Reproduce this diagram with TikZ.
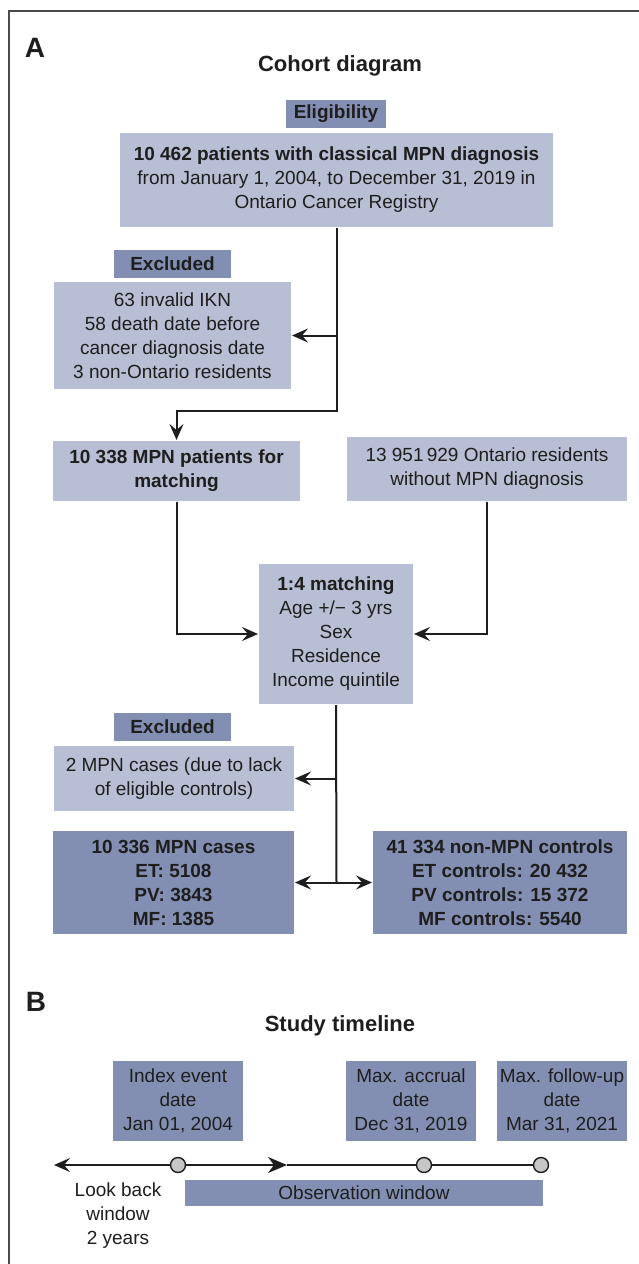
\documentclass[tikz,border=0pt]{standalone}
\usepackage{fontspec}
\setmainfont{Liberation Sans}
\usepackage{tikz}
\usetikzlibrary{arrows.meta}

\definecolor{boxlight}{RGB}{184,191,212}
\definecolor{boxdark}{RGB}{131,143,178}
\definecolor{ink}{RGB}{30,30,30}

\begin{document}
\begin{tikzpicture}[x=1pt, y=-1pt, >={Stealth[length=16pt,width=14pt,inset=6pt]}, color=ink,
			line width=2pt,
			box/.style={fill=boxlight, text=ink, inner sep=0pt, align=center,
				font=\fontsize{19}{24}\selectfont},
			darkbox/.style={box, fill=boxdark},
			tag/.style={darkbox, font=\fontsize{19}{24}\selectfont\bfseries, minimum height=28pt},
			dot/.style={circle, draw=ink, fill=gray!45, line width=1.4pt, minimum size=15pt, inner sep=0pt},
			titulo/.style={font=\fontsize{22}{26}\selectfont\bfseries},
			painel/.style={font=\fontsize{28}{30}\selectfont\bfseries} ]
			\useasboundingbox (0,0) rectangle (639,1264);
			\draw[line width=1.6pt, ink!80] (639,11) -| (9,1264);
			
			%Parte A:
			\node[painel] (A)  at (35,48)   {A};
			\node[titulo] (tA) at (340,66)  {Cohort diagram};
			\node[tag, minimum width=100pt] (elig) at (336,114) {Eligibility};
			\node[box, minimum width=433pt, minimum height=94pt] (pool) at (336.5,180)
				{\textbf{10 462 patients with classical MPN diagnosis}\\from January 1, 2004, to December 31, 2019 in\\Ontario Cancer Registry};
			\node[tag, minimum width=117pt] (exc1t) at (172.5,264) {Excluded};
			\node[box, minimum width=237pt, minimum height=107pt] (exc1) at (172.5,335.5)
				{63 invalid IKN\\58 death date before\\cancer diagnosis date\\3 non-Ontario residents};
			\node[box, minimum width=247pt, minimum height=60pt] (mpn) at (176.5,471)
				{\textbf{10 338 MPN patients for}\\\textbf{matching}};
			\node[box, minimum width=280pt, minimum height=64pt] (ctrl) at (487,469)
				{13 951\,929 Ontario residents\\without MPN diagnosis};
			\node[box, minimum width=154pt, minimum height=140pt] (match) at (336,634)
				{\textbf{1:4 matching}\\Age +/− 3 yrs\\Sex\\Residence\\Income quintile};
			\node[tag, minimum width=117pt] (exc2t) at (172.5,727) {Excluded};
			\node[box, minimum width=240pt, minimum height=65pt] (exc2) at (174,778.5)
				{2 MPN cases (due to lack\\of eligible controls)};
			\node[darkbox, font=\fontsize{19}{24}\selectfont\bfseries, minimum width=241pt, minimum height=103pt] (cases) at (173.5,882.5)
				{10 336 MPN cases\\ET: 5108\\PV: 3843\\MF: 1385};
			\node[darkbox, font=\fontsize{19}{24}\selectfont\bfseries, minimum width=254pt, minimum height=103pt] (ctrls) at (500,882.5)
				{41 334 non-MPN controls\\ET controls: 20 432\\PV controls: 15 372\\MF controls: 5540};
			
			%Ligações:
			\coordinate (k1) at (336.5,411);
			\coordinate (k2) at (336.5,882.5);
			\draw[->] (pool.south) -- (k1) -| (mpn.north);
			\draw[->] (pool.south |- exc1.east) -- (exc1.east);
			\draw[->] (mpn.south) |- (match.west);
			\draw[->] (ctrl.south) |- (match.east);
			\draw (match.south) -- (k2);
			\draw[->] (match.south |- exc2.east) -- (exc2.east);
			\draw[->] (k2) -- (cases.east);
			\draw[->] (k2) -- (ctrls.west);
			
			%Parte B:
			\node[painel] (B)  at (36,1002)  {B};
			\node[titulo] (tB) at (340,1026) {Study timeline};
			\node[darkbox, minimum width=130pt, minimum height=80pt] (idx) at (178,1101)
				{Index event\\date\\Jan 01, 2004};
			\node[darkbox, minimum width=130pt, minimum height=80pt] (acc) at (411,1101)
				{Max. accrual\\date\\Dec 31, 2019};
			\node[darkbox, minimum width=130pt, minimum height=80pt] (fup) at (562,1101)
				{Max. follow-up\\date\\Mar 31, 2021};
			\node[darkbox, minimum width=358pt, minimum height=26pt] (obs) at (364,1193)
				{Observation window};
			\node[box, fill=none] (look) at (118,1216) {Look back\\window\\2 years};
			
			\coordinate (ini)  at (54,1165);
			\coordinate (meio) at (287,1165);
			\node[dot] (d1) at (178,1165) {};
			\node[dot] (d2) at (424,1165) {};
			\node[dot] (d3) at (541,1165) {};
			\draw[->] (d1) -- (ini);
			\draw[-{Stealth[length=19pt,width=16pt,inset=6pt]}] (d1) -- (meio);
			\draw (meio) -- (d2) (d2) -- (d3);
		\end{tikzpicture}
\end{document}
